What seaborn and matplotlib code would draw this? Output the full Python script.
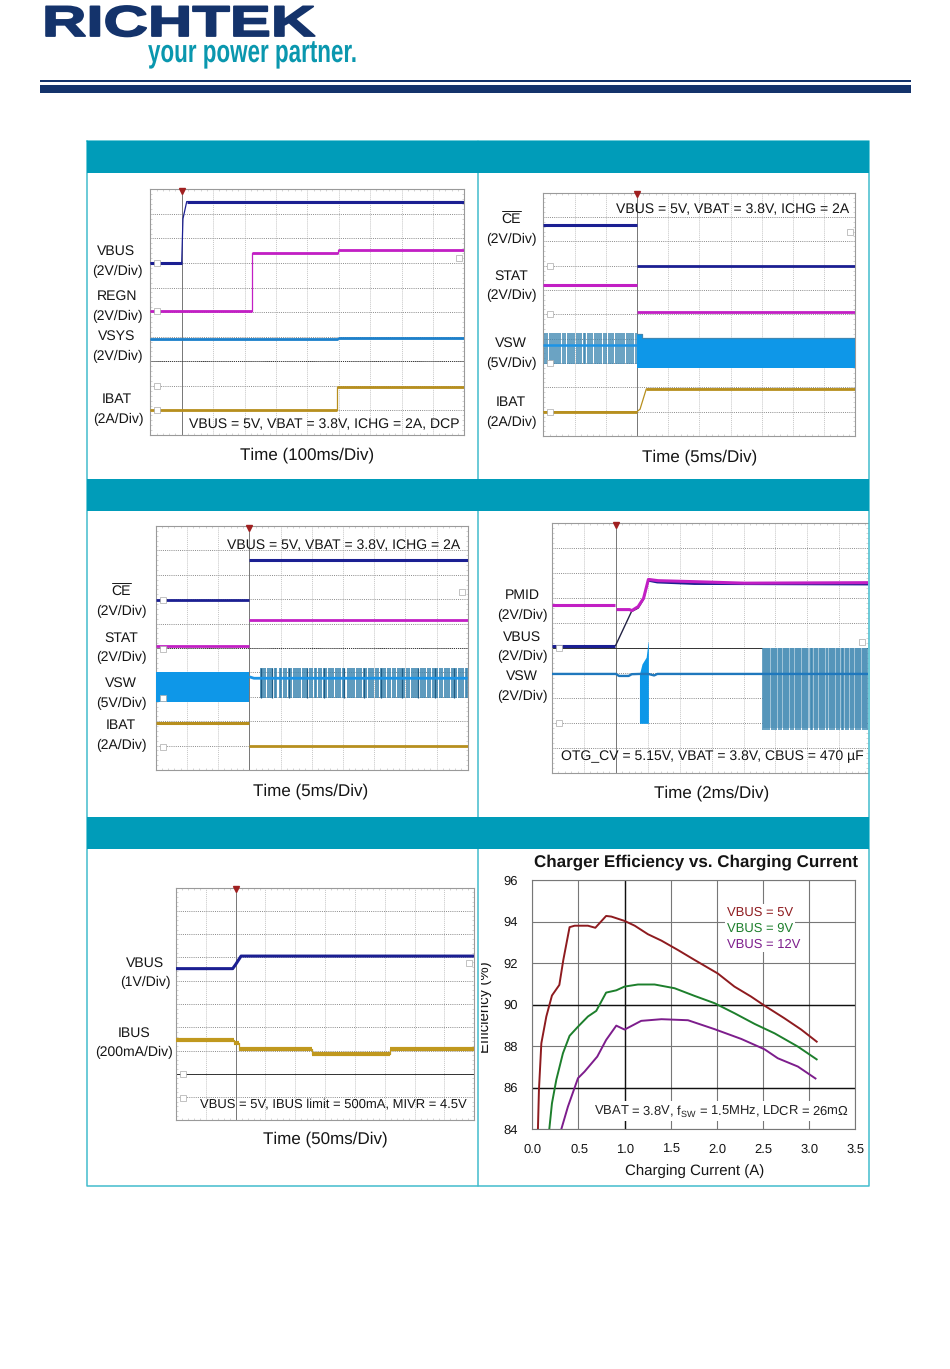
import numpy as np
import matplotlib
matplotlib.use("Agg")
import matplotlib.pyplot as plt
import matplotlib.patheffects as pe
from matplotlib.patches import Rectangle
from matplotlib.transforms import Affine2D, Bbox
import seaborn as sns

sns.set_theme(style="white")
plt.rcParams["font.family"] = ["Liberation Sans", "DejaVu Sans"]
plt.rcParams["mathtext.default"] = "regular"
plt.rcParams["text.hinting"] = "no_hinting"
plt.rcParams["text.hinting_factor"] = 1

NAVY, MAG, BLUE, GOLD = "#1b1f92", "#c21fc4", "#1d80cb", "#b78f1e"
PULSE = "#3f87b2"
BRIGHT = "#1c94e6"

# ---------- Panel 1 (power on) ----------
p1_vbus_t = [0, 1.0, 1.04, 1.16, 10]
p1_vbus_v = [7.0, 7.0, 8.8, 9.5, 9.5]
p1_regn_t = [0, 3.25, 3.25, 5.97, 5.97, 10]
p1_regn_v = [5.05, 5.05, 7.4, 7.4, 7.52, 7.52]
p1_vsys_t = [0, 5.97, 5.97, 10]
p1_vsys_v = [3.9, 3.9, 3.95, 3.95]
p1_ibat_t = [0, 5.95, 5.95, 10]
p1_ibat_v = [1.02, 1.02, 1.95, 1.95]

# ---------- Panel 2 (charge enable) ----------
p2_ce_t, p2_ce_v = [0, 3.0], [8.66, 8.66]
p2_ce2_t, p2_ce2_v = [3.0, 10], [7.0, 7.0]
p2_stat_t, p2_stat_v = [0, 3.0], [6.19, 6.19]
p2_stat2_t, p2_stat2_v = [3.0, 10], [5.08, 5.08]
p2_vsw_mid = 3.75
p2_vsw_low, p2_vsw_high = 2.96, 4.22
p2_pulses = [0.05, 0.12, 0.2, 0.27, 0.33, 0.42, 0.48, 0.55, 0.64, 0.7, 0.78, 0.85, 0.93, 0.99,
             1.07, 1.14, 1.2, 1.29, 1.35, 1.43, 1.5, 1.56, 1.66, 1.72, 1.8, 1.86, 1.95, 2.02,
             2.1, 2.17, 2.23, 2.32, 2.38, 2.46, 2.53, 2.6, 2.68, 2.74, 2.82, 2.88, 2.96]
p2_solid_t = [3.0, 3.15, 3.15, 10]
p2_solid_hi = [4.19, 4.19, 4.04, 4.04]
p2_solid_lo = [2.81, 2.81, 2.81, 2.81]
p2_ibat_t = [0, 3.0, 3.1, 3.3, 10]
p2_ibat_v = [1.0, 1.0, 1.1, 1.93, 1.93]

# ---------- Panel 3 (charge disable) ----------
p3_ce_t, p3_ce_v = [0, 3.0], [6.95, 6.95]
p3_ce2_t, p3_ce2_v = [3.0, 10], [8.62, 8.62]
p3_stat_t, p3_stat_v = [0, 3.0], [5.07, 5.07]
p3_stat2_t, p3_stat2_v = [3.0, 10], [6.16, 6.16]
p3_solid_t = [0, 3.0]
p3_solid_hi = [4.03, 4.03]
p3_solid_lo = [2.8, 2.8]
p3_mid_t = [3.0, 3.15, 3.37, 10]
p3_mid_v = [3.82, 3.76, 3.76, 3.76]
p3_pulses = [3.37, 3.45, 3.5, 3.6, 3.66, 3.74, 3.82, 3.87, 3.97, 4.03, 4.12, 4.18, 4.27, 4.33,
             4.42, 4.5, 4.55, 4.64, 4.72, 4.78, 4.86, 4.95, 5.0, 5.09, 5.15, 5.24, 5.3, 5.4,
             5.46, 5.54, 5.62, 5.68, 5.77, 5.83, 5.92, 6.0, 6.05, 6.15, 6.22, 6.3, 6.36, 6.45,
             6.53, 6.58, 6.68, 6.75, 6.83, 6.9, 6.97, 7.06, 7.12, 7.22, 7.28, 7.36, 7.45, 7.5,
             7.6, 7.66, 7.75, 7.82, 7.88, 7.97, 8.05, 8.12, 8.2, 8.27, 8.35, 8.42, 8.5, 8.58,
             8.64, 8.73, 8.8, 8.88, 8.95, 9.02, 9.11, 9.18, 9.26, 9.33, 9.4, 9.49, 9.56, 9.63,
             9.71, 9.78, 9.86, 9.93, 9.98]
p3_dark = [3.37, 3.74, 4.27, 4.86, 5.4, 6.05, 6.68, 7.22, 7.88, 8.42, 8.95, 9.56]
p3_vsw_low, p3_vsw_high = 2.96, 4.19
p3_ibat_t, p3_ibat_v = [0, 3.0], [1.91, 1.91]
p3_ibat2_t, p3_ibat2_v = [3.0, 10], [0.98, 0.98]

# ---------- Panel 4 (OTG) ----------
p4_pmid1_t, p4_pmid1_v = [0, 1.985], [6.71, 6.71]
p4_pmid2_t = [2.02, 2.43, 2.5, 2.7, 2.87, 3.02, 3.32, 4.46, 6.03, 9.9]
p4_pmid2_v = [6.54, 6.54, 6.5, 6.66, 7.0, 7.75, 7.7, 7.66, 7.6, 7.62]
p4_vbus_t, p4_vbus_v = [0, 1.985], [5.08, 5.08]
p4_rise_t = [1.985, 2.49, 2.7, 2.87, 3.02]
p4_rise_v = [5.08, 6.46, 6.6, 6.95, 7.72]
p4_vbus2_t = [3.02, 3.3, 4.46, 9.9]
p4_vbus2_v = [7.72, 7.65, 7.59, 7.57]
p4_vsw_t = [0, 2.0, 2.1, 2.4, 2.5, 2.74, 3.02, 3.2, 3.3, 9.9]
p4_vsw_v = [3.96, 3.96, 3.88, 3.88, 3.95, 3.96, 3.96, 3.9, 3.96, 3.96]
p4_burst_t = [2.74, 2.82, 2.95, 3.01, 3.02]
p4_burst_hi = [3.96, 4.36, 4.63, 5.25, 5.25]
p4_burst_lo = [1.98, 1.98, 1.98, 1.98, 1.98]
p4_pulses = [6.6, 6.66, 6.74, 6.8, 6.9, 6.97, 7.03, 7.12, 7.18, 7.27, 7.33, 7.4, 7.5, 7.55, 7.63,
             7.72, 7.78, 7.87, 7.93, 8.0, 8.1, 8.16, 8.24, 8.3, 8.4, 8.46, 8.53, 8.62, 8.7, 8.76,
             8.85, 8.92, 8.98, 9.07, 9.13, 9.22, 9.28, 9.37, 9.43, 9.52, 9.58, 9.66, 9.73, 9.8, 9.88]
p4_vsw_low, p4_vsw_high = 1.71, 4.99

# ---------- Panel 5 (VBUS / IBUS) ----------
p5_vbus_t = [0, 1.9, 2.0, 2.18, 10]
p5_vbus_v = [6.52, 6.52, 6.7, 7.06, 7.06]
p5_ibus_t = [0, 1.96, 1.96, 2.12, 2.12, 4.56, 4.56, 7.17, 7.17, 10]
p5_ibus_v = [3.44, 3.44, 3.31, 3.31, 3.08, 3.08, 2.87, 2.87, 3.08, 3.08]

# ---------- Panel 6 (efficiency) ----------
eff_5v_x = [0.061, 0.072, 0.098, 0.152, 0.213, 0.293, 0.336, 0.404, 0.459, 0.603, 0.683, 0.80, 0.856,
            1.0, 1.11, 1.253, 1.40, 1.578, 1.759, 2.01, 2.19, 2.37, 2.517, 2.73, 2.914, 3.09]
eff_5v_y = [84, 85.9, 88.14, 89.43, 90.44, 90.95, 92.15, 93.73, 93.8, 93.8, 93.7, 94.27, 94.24,
            94.03, 93.8, 93.39, 93.08, 92.63, 92.15, 91.5, 90.87, 90.39, 89.95, 89.35, 88.8, 88.19]
eff_9v_x = [0.184, 0.213, 0.26, 0.332, 0.404, 0.495, 0.603, 0.693, 0.80, 0.91, 1.0, 1.145, 1.325,
            1.542, 1.759, 1.975, 2.19, 2.41, 2.625, 2.878, 3.09]
eff_9v_y = [84, 85.25, 86.38, 87.66, 88.5, 88.94, 89.43, 89.7, 90.58, 90.69, 90.87, 90.97, 90.97,
            90.79, 90.42, 90.07, 89.59, 89.07, 88.62, 87.98, 87.34]
eff_12v_x = [0.314, 0.386, 0.495, 0.567, 0.704, 0.80, 0.91, 1.0, 1.18, 1.40, 1.687, 1.975, 2.264,
             2.517, 2.66, 2.878, 3.077]
eff_12v_y = [84, 85.09, 86.46, 86.78, 87.5, 88.3, 88.99, 88.8, 89.22, 89.3, 89.25, 88.82, 88.35,
             87.85, 87.42, 87.02, 86.42]
eff_xticks = [0.0, 0.5, 1.0, 1.5, 2.0, 2.5, 3.0, 3.5]
eff_yticks = [84, 86, 88, 90, 92, 94, 96]

W, H = 950, 1369
fig = plt.figure(figsize=(W / 100, H / 100), dpi=100, facecolor="white")


def add_axes(l, t, r, b, z=2):
    return fig.add_axes([l / W, 1 - b / H, (r - l) / W, (b - t) / H], zorder=z)


top = fig.add_axes([0, 0, 1, 1], zorder=10)
top.set_xlim(0, W)
top.set_ylim(H, 0)
top.axis("off")
top.patch.set_alpha(0)


class Stretch(pe.AbstractPathEffect):
    def __init__(self, x0, sx, stroke=0.0, color=None):
        super().__init__()
        self.x0, self.sx, self.stroke, self.color = x0, sx, stroke, color

    def draw_path(self, renderer, gc, tpath, affine, rgbFace=None):
        extra = Affine2D().translate(-self.x0, 0).scale(self.sx, 1).translate(self.x0, 0)
        gc0 = renderer.new_gc()
        gc0.copy_properties(gc)
        if self.stroke:
            gc0.set_linewidth(self.stroke)
            gc0.set_foreground(self.color)
        renderer.draw_path(gc0, tpath, affine + extra, rgbFace)
        gc0.restore()


def label(x, y, s, size=13.5, color="#151515", **kw):
    kw.setdefault("ha", "center")
    kw.setdefault("va", "center")
    dy = 1.2 if kw["va"] == "center" else 0
    return top.text(x, y + dy, s, fontsize=size * 0.72, color=color, **kw)


def line(ax, t, v, color, lw=1.8, z=4):
    sns.lineplot(x=t, y=v, color=color, linewidth=lw, estimator=None, sort=False,
                 errorbar=None, legend=False, ax=ax, zorder=z, solid_capstyle="butt")


def trace(ax, t, v, color, lw=1.8, z=4):
    """Thin line through every point, heavy only on the flat stretches."""
    line(ax, t, v, color, 0.9, z)
    for i in range(len(t) - 1):
        if v[i] == v[i + 1]:
            line(ax, t[i:i + 2], v[i:i + 2], color, lw, z)


def scope(l, t, r, b, xmax=10.0, trig=3.0, dark=None, dark_ls="-", marks=(), rmarks=()):
    ax = add_axes(l, t, r, b)
    ax.set_xlim(0, xmax)
    ax.set_ylim(0, 10)
    ax.set_xticks(np.arange(1, xmax, 1.0))
    ax.set_yticks(np.arange(1, 10, 1.0))
    ax.set_xticks(np.arange(0, xmax, 0.2), minor=True)
    ax.set_yticks(np.arange(0, 10, 0.2), minor=True)
    ax.tick_params(which="major", length=0, labelbottom=False, labelleft=False)
    ax.tick_params(which="minor", direction="in", length=1.5, width=0.4, color="#b5b5b5",
                   top=True, bottom=True, left=True, right=True)
    ax.grid(True, axis="x", which="major", color="#c6c6c6", lw=0.7, ls=(0, (1, 1)))
    ax.grid(True, axis="y", which="major", color="#8a8a8a", lw=0.7, ls=(0, (1, 1.2)))
    for s in ax.spines.values():
        s.set_color("#9a9a9a")
        s.set_linewidth(0.8)
    if xmax < 10:
        ax.spines["right"].set_visible(False)
    ax.axvline(trig, color="#777777", lw=0.7, zorder=1)
    if dark is not None:
        ax.axhline(dark, color="#333333", lw=0.7, ls=dark_ls, zorder=1)
    ax.plot([trig], [9.93], marker="v", ms=4.5, color="#a02020", clip_on=False, zorder=6)
    if marks:
        ax.plot([0.22] * len(marks), marks, ls="", marker="s", ms=4.2, mfc="white",
                mec="#aaaaaa", mew=0.5, zorder=5)
    if rmarks:
        ax.plot([xmax - 0.18] * len(rmarks), rmarks, ls="", marker="s", ms=4.2, mfc="white",
                mec="#aaaaaa", mew=0.5, zorder=5)
    return ax


# ---------- Logo and page rules ----------
label(42, 36, "RICHTEK", size=43, color="#14336b", ha="left", va="baseline", fontweight="bold",
      path_effects=[Stretch(42, 1.43, stroke=1.3, color="#14336b")])
label(148, 62, "your power partner.", size=32, color="#0a97ae", ha="left", va="baseline",
      fontweight="bold", path_effects=[Stretch(148, 0.70)])
top.add_patch(Rectangle((40, 80), 871, 2.4, fc="#14336b", ec="none"))
top.add_patch(Rectangle((40, 85), 871, 8, fc="#14336b", ec="none"))

# ---------- Table frame ----------
HDR = "#009cb9"
EDGE = "#43bccd"
for y0 in (141, 479, 817):
    top.add_patch(Rectangle((87, y0), 782, 31.5, fc=HDR, ec="none", zorder=3))
top.plot([87, 87, 869, 869, 87], [141, 1186, 1186, 141, 141], color=EDGE, lw=1.1, zorder=2)
top.plot([477.5, 477.5], [141, 1186], color=EDGE, lw=1.1, zorder=2)

# ---------- Panel 1 ----------
a1 = scope(150.3, 189.3, 464.3, 435, trig=1.0, dark=3.0, dark_ls=(0, (1, 1)),
           marks=(7.0, 5.05, 2.0, 1.02), rmarks=(7.2,))
trace(a1, p1_vbus_t, p1_vbus_v, NAVY, 2.2)
trace(a1, p1_regn_t, p1_regn_v, MAG, 2.0)
trace(a1, p1_vsys_t, p1_vsys_v, BLUE, 2.0)
trace(a1, p1_ibat_t, p1_ibat_v, GOLD, 2.0)
for x, y, s in [(116, 250, "VBUS"), (117, 270, "(2V/Div)"), (117, 295, "REGN"), (117, 315, "(2V/Div)"),
                (117, 335, "VSYS"), (117, 355, "(2V/Div)"), (117, 398, "IBAT"), (118, 418, "(2A/Div)")]:
    label(x, y, s)
label(324, 423, "VBUS = 5V, VBAT = 3.8V, ICHG = 2A, DCP", size=13.6)
label(307, 454, "Time (100ms/Div)", size=16.5)

# ---------- Panel 2 ----------
a2 = scope(543.3, 192.7, 855.3, 436, trig=3.0, marks=(7.0, 5.0, 3.0, 1.0), rmarks=(8.37,))
line(a2, p2_ce_t, p2_ce_v, NAVY, 2.2)
line(a2, p2_ce2_t, p2_ce2_v, NAVY, 2.0)
line(a2, p2_stat_t, p2_stat_v, MAG, 2.2)
line(a2, p2_stat2_t, p2_stat2_v, MAG, 2.0)
a2.vlines(p2_pulses, p2_vsw_low, p2_vsw_high, color=PULSE, lw=1.1, zorder=3)
line(a2, [0, 3.0], [p2_vsw_mid, p2_vsw_mid], BRIGHT, 1.8)
a2.fill_between(p2_solid_t, p2_solid_lo, p2_solid_hi, color="#0e97e8", lw=0, zorder=3)
line(a2, [3.0, 3.15, 3.15, 10], p2_solid_hi, PULSE, 0.9)
trace(a2, p2_ibat_t, p2_ibat_v, GOLD, 2.0)
for x, y, s in [(511, 218, "CE"), (511, 238, "(2V/Div)"), (511, 275, "STAT"), (511, 294, "(2V/Div)"),
                (511, 342, "VSW"), (511, 362, "(5V/Div)"), (511, 401, "IBAT"), (511, 421, "(2A/Div)")]:
    label(x, y, s)
top.plot([502, 521], [211, 211], color="#151515", lw=0.7)
label(733, 208, "VBUS = 5V, VBAT = 3.8V, ICHG = 2A", size=13.6)
label(700, 456, "Time (5ms/Div)", size=16.5)

# ---------- Panel 3 ----------
a3 = scope(155.7, 526, 467.7, 770, trig=3.0, dark=5.0, dark_ls=(0, (1, 1)),
           marks=(6.97, 4.95, 2.94, 0.96), rmarks=(7.28,))
line(a3, p3_ce_t, p3_ce_v, NAVY, 2.0)
line(a3, p3_ce2_t, p3_ce2_v, NAVY, 2.2)
line(a3, p3_stat_t, p3_stat_v, MAG, 2.0)
line(a3, p3_stat2_t, p3_stat2_v, MAG, 2.0)
a3.fill_between(p3_solid_t, p3_solid_lo, p3_solid_hi, color="#0e97e8", lw=0, zorder=3)
a3.vlines(p3_pulses, p3_vsw_low, p3_vsw_high, color=PULSE, lw=1.2, zorder=3)
a3.vlines(p3_dark, p3_vsw_low, p3_vsw_high, color="#1f5c85", lw=0.9, zorder=3)
line(a3, p3_mid_t, p3_mid_v, BRIGHT, 2.0)
line(a3, p3_ibat_t, p3_ibat_v, GOLD, 2.2)
line(a3, p3_ibat2_t, p3_ibat2_v, GOLD, 2.0)
for x, y, s in [(121, 590, "CE"), (121, 610, "(2V/Div)"), (121, 637, "STAT"), (121, 656, "(2V/Div)"),
                (121, 682, "VSW"), (121, 702, "(5V/Div)"), (121, 724, "IBAT"), (121, 744, "(2A/Div)")]:
    label(x, y, s)
top.plot([112, 131], [583, 583], color="#151515", lw=0.7)
label(344, 544, "VBUS = 5V, VBAT = 3.8V, ICHG = 2A", size=13.6)
label(311, 790, "Time (5ms/Div)", size=16.5)

# ---------- Panel 4 ----------
a4 = scope(552, 523.3, 868, 772.7, xmax=9.9, trig=2.0, dark=5.0, marks=(5.0, 2.0), rmarks=(5.25,))
a4.fill_between([p4_pulses[0], p4_pulses[-1]], p4_vsw_low + 0.1, p4_vsw_high, color="#9fc3d8", lw=0, zorder=2)
a4.vlines(p4_pulses, p4_vsw_low, p4_vsw_high, color=PULSE, lw=1.1, zorder=3)
a4.fill_between(p4_burst_t, p4_burst_lo, p4_burst_hi, color="#0e97e8", lw=0, zorder=3)
line(a4, p4_vsw_t, p4_vsw_v, "#1f78bd", 1.7)
line(a4, p4_vbus_t, p4_vbus_v, NAVY, 2.2)
line(a4, p4_rise_t, p4_rise_v, "#222244", 1.0)
line(a4, p4_vbus2_t, p4_vbus2_v, NAVY, 2.2)
line(a4, p4_pmid1_t, p4_pmid1_v, MAG, 2.2, z=5)
line(a4, p4_pmid2_t, p4_pmid2_v, MAG, 2.2, z=5)
for x, y, s in [(522, 594, "PMID"), (522, 614, "(2V/Div)"), (522, 636, "VBUS"), (522, 655, "(2V/Div)"),
                (522, 675, "VSW"), (522, 695, "(2V/Div)")]:
    label(x, y, s)
label(712, 755, "OTG_CV = 5.15V, VBAT = 3.8V, CBUS = 470 µF", size=14)
label(712, 792, "Time (2ms/Div)", size=16.5)

# ---------- Panel 5 ----------
a5 = scope(176, 887.7, 474.3, 1120.3, trig=2.0, dark=1.98, marks=(1.98, 0.97), rmarks=(6.75,))
line(a5, p5_vbus_t, p5_vbus_v, NAVY, 2.2)
trace(a5, p5_ibus_t, p5_ibus_v, "#c0981e", 3.0)
for x, y, s in [(145, 962, "VBUS"), (145, 981, "(1V/Div)"), (134, 1032, "IBUS"), (134, 1051, "(200mA/Div)")]:
    label(x, y, s)
label(333, 1104, "VBUS = 5V, IBUS limit = 500mA, MIVR = 4.5V", size=13)
label(325, 1138, "Time (50ms/Div)", size=16.5)

# ---------- Panel 6 ----------
a6 = add_axes(532.3, 880, 855.3, 1129.3)
line(a6, eff_5v_x, eff_5v_y, "#8e1b1f", 1.4)
line(a6, eff_9v_x, eff_9v_y, "#1d7f2c", 1.4)
line(a6, eff_12v_x, eff_12v_y, "#7d1d8c", 1.4)
a6.set_xlim(0, 3.5)
a6.set_ylim(84, 96)
a6.set_xticks(eff_xticks)
a6.set_yticks(eff_yticks)
a6.set_xticklabels([])
a6.set_yticklabels([])
a6.set_xlabel("")
a6.set_ylabel("")
a6.tick_params(length=0)
a6.grid(True, color="#777777", lw=0.8)
for val in (90, 86):
    a6.axhline(val, color="#111111", lw=1.0, zorder=1)
a6.axvline(1.0, color="#111111", lw=1.0, zorder=1)
for s in a6.spines.values():
    s.set_color("#777777")
    s.set_linewidth(0.8)
for v in eff_xticks:
    label(533 + v / 0.5 * 46.1, 1148, f"{v:.1f}", size=13)
for v in eff_yticks:
    label(511, 1129.3 - (v - 84) / 12 * 249.3, f"{v}", size=13)
label(696, 861, "Charger Efficiency vs. Charging Current", size=17.1, fontweight="bold")
label(695, 1170, "Charging Current (A)", size=15)
eff = label(485, 1006, "Efficiency (%)", size=15, rotation=90)
eff.set_clip_box(Bbox([[481, 0], [500, H]]))
eff.set_clip_on(True)
box = dict(fc="white", ec="none", pad=1.5)
label(727, 911, "VBUS = 5V", size=13, color="#8e1b1f", ha="left", bbox=box)
label(727, 927, "VBUS = 9V", size=13, color="#1d7f2c", ha="left", bbox=box)
label(727, 943, "VBUS = 12V", size=13, color="#7d1d8c", ha="left", bbox=box)
label(721, 1110, "VBAT = 3.8V, f$_{SW}$ = 1.5MHz, LDCR = 26mΩ", size=12.9, color="#222222", bbox=box)

fig.savefig("out.png", dpi=100)
